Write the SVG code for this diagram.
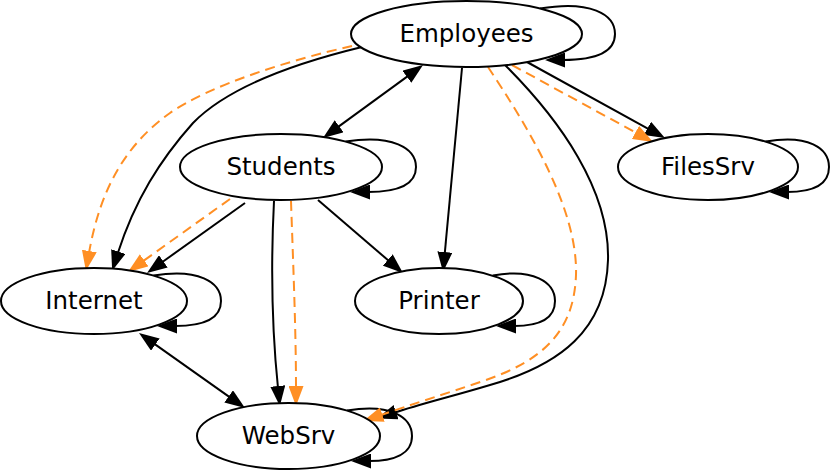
<svg xmlns="http://www.w3.org/2000/svg" width="830" height="473" viewBox="0 0 830 473">
<style>
.node ellipse{fill:#fff;stroke:#000;stroke-width:2}
.node text{font-family:"DejaVu Sans","Liberation Sans",sans-serif;font-size:24.5px;text-anchor:middle;fill:#000}
.e{fill:none;stroke:#000;stroke-width:2;marker-end:url(#ab)}
.bi{marker-start:url(#ab)}
.o{fill:none;stroke:#ff8f24;stroke-width:2;stroke-dasharray:10,6;marker-end:url(#ao)}
</style>
<defs>
<marker id="ab" markerWidth="20" markerHeight="15" refX="2" refY="7.5" orient="auto-start-reverse" markerUnits="userSpaceOnUse" viewBox="0 0 20 15"><path d="M0,0 L20,7.5 L0,15 z" fill="#000"/></marker>
<marker id="ao" markerWidth="20" markerHeight="15" refX="2" refY="7.5" orient="auto" markerUnits="userSpaceOnUse" viewBox="0 0 20 15"><path d="M0,0 L20,7.5 L0,15 z" fill="#ff8f24"/></marker>
</defs>
<g id="connectors">
<!-- self loops -->
<path class="e" d="M540,8.6 C590,0 615,14 615,34 C615,52 596,60 563,60"/>
<path class="e" d="M345.6,141.6 C392,134 416,148 416,167 C416,185 398,192 368,192"/>
<path class="e" d="M765.6,141.6 C808,134 829,148 829,167 C829,185 813,192 787,192"/>
<path class="e" d="M153.5,275.6 C198,268 221,282 221,301 C221,319 203,326 175,326"/>
<path class="e" d="M492.8,275.6 C533,268 555,282 555,301 C555,319 538,326 514,326"/>
<path class="e" d="M347,410.6 C390,403 412,417 412,436 C412,454 394,461 369,461"/>
<!-- Employees edges -->
<path class="e bi" d="M408.5,75.6 L337.5,127.4"/>
<path class="e" d="M362,47 C300,62 230,85 193,123 C160,160 135,200 117.7,253.5"/>
<path class="o" d="M352,46 C290,60 210,85 170,113 C125,145 100,190 89,253"/>
<path class="e" d="M462,68 L444.7,254"/>
<path class="e" d="M527,62 L649.2,129.3"/>
<path class="o" d="M512,65 L637.2,133.4"/>
<path class="e" d="M505,65 C560,120 610,190 608,260 C606,330 560,365 490,385 C450,397 420,404 394.2,412.8"/>
<path class="o" d="M488,67 C530,130 578,210 576,275 C574,330 545,360 483,381 C445,394 410,405 380.4,415.2"/>
<!-- Students edges -->
<path class="e" d="M245,203 L161.7,262.5"/>
<path class="o" d="M230,199 L142.6,261.5"/>
<path class="e" d="M318,200 L389.3,261.3"/>
<path class="e" d="M274,201 C271,260 272,330 278,388"/>
<path class="o" d="M291,201 C293,260 296,330 296,388"/>
<!-- Internet <-> WebSrv -->
<path class="e bi" d="M153.7,343.4 L230.3,397.6"/>
</g>
<g id="Employees" class="node"><ellipse cx="466.5" cy="34" rx="115.5" ry="33"/><text x="466.5" y="42">Employees</text></g>
<g id="Students" class="node"><ellipse cx="281" cy="167" rx="101" ry="33"/><text x="281" y="175">Students</text></g>
<g id="FilesSrv" class="node"><ellipse cx="708" cy="167" rx="90" ry="33"/><text x="708" y="175">FilesSrv</text></g>
<g id="Internet" class="node"><ellipse cx="94" cy="301" rx="93" ry="33"/><text x="94" y="309">Internet</text></g>
<g id="Printer" class="node"><ellipse cx="439" cy="301" rx="84" ry="33"/><text x="439" y="309">Printer</text></g>
<g id="WebSrv" class="node"><ellipse cx="288.5" cy="436" rx="91.5" ry="33"/><text x="288.5" y="444">WebSrv</text></g>
</svg>
